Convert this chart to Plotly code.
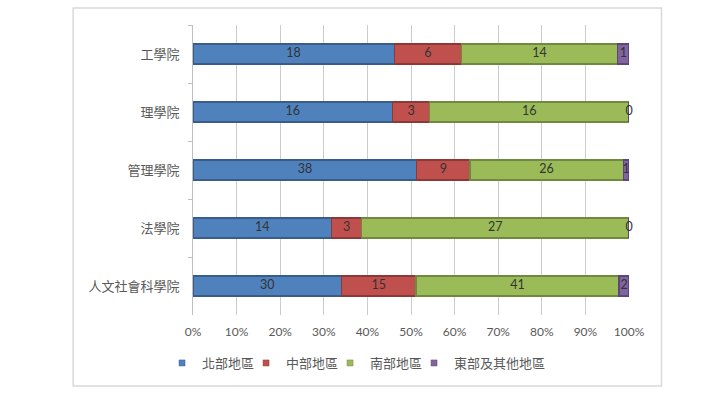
import plotly.graph_objects as go

categories = ["工學院", "理學院", "管理學院", "法學院", "人文社會科學院"]
series_names = ["北部地區", "中部地區", "南部地區", "東部及其他地區"]
north = [18, 16, 38, 14, 30]
central = [6, 3, 9, 3, 15]
south = [14, 16, 26, 27, 41]
east = [1, 0, 1, 0, 2]
x_tick_vals = [i / 10 for i in range(11)]
x_tick_text = [f"{i*10}%" for i in range(11)]

fills = ["#4F81BD", "#C0504D", "#9BBB59", "#8064A2"]
borders = ["#385D8A", "#8C3836", "#71893F", "#5C4776"]

series = [north, central, south, east]
totals = [sum(s[i] for s in series) for i in range(len(categories))]

W, H = 712, 415
L, R, T, B = 193, 629.5, 25, 315

fig = go.Figure()
cum = [0.0] * len(categories)
text_x, text_y, text_s = [], [], []
for name, vals, fc, bc in zip(series_names, series, fills, borders):
    shares = [v / t for v, t in zip(vals, totals)]
    fig.add_trace(go.Bar(
        y=categories, x=shares, orientation="h", name=name,
        marker=dict(color=fc, line=dict(color=bc, width=1.2)),
        showlegend=False, hoverinfo="skip",
    ))
    for i, (v, s) in enumerate(zip(vals, shares)):
        text_x.append(cum[i] + s / 2)
        text_y.append(categories[i])
        text_s.append(str(v))
        cum[i] += s
    # legend proxy
    fig.add_trace(go.Scatter(
        x=[None], y=[None], mode="markers", name=name,
        marker=dict(symbol="square", size=6, color=fc, line=dict(color=bc, width=0.5)),
    ))

# spacer legend entry so the last legend label is not clipped
fig.add_trace(go.Scatter(
    x=[None], y=[None], mode="markers", name=" ",
    marker=dict(symbol="square", size=6, color="rgba(0,0,0,0)"),
))

fig.add_trace(go.Scatter(
    x=text_x, y=text_y, mode="text", text=text_s, showlegend=False,
    textfont=dict(family="Lato, Noto Sans CJK TC", size=12.5, color="#333333"),
    hoverinfo="skip", cliponaxis=False,
))

fig.update_layout(
    width=W, height=H,
    margin=dict(l=L, r=W - R, t=T, b=H - B, pad=0, autoexpand=False),
    paper_bgcolor="white", plot_bgcolor="white",
    barmode="stack", bargap=0.655,
    font=dict(family="Lato, Noto Sans CJK TC", color="#595959"),
    xaxis=dict(range=[0, 1], tickvals=x_tick_vals, ticktext=x_tick_text,
               showgrid=True, gridcolor="#CCCCCC", gridwidth=1,
               zeroline=False, showline=False, ticks="",
               ticklabelstandoff=8,
               tickfont=dict(size=12, color="#595959"), fixedrange=True),
    yaxis=dict(autorange="reversed", showline=True, linecolor="#BFBFBF", linewidth=1,
               ticks="outside", tickson="boundaries", ticklen=4, tickcolor="#BFBFBF",
               showgrid=False, tickfont=dict(family="Noto Sans CJK TC", size=13, color="#595959"),
               ticklabelstandoff=10),
    legend=dict(orientation="h", traceorder="normal",
                x=(162 - L) / (R - L), xanchor="left",
                y=-(363 - B) / (B - T), yanchor="middle",
                font=dict(family="Noto Sans CJK TC", size=13, color="#595959"),
                entrywidth=39, entrywidthmode="pixels", itemwidth=30,
                bgcolor="rgba(0,0,0,0)"),
    shapes=[dict(type="rect", xref="paper", yref="paper",
                 x0=(73 - L) / (R - L), x1=(662 - L) / (R - L),
                 y0=-(386 - B) / (B - T), y1=(B - 8) / (B - T),
                 line=dict(color="#D9D9D9", width=1.5), layer="below")],
)

fig.write_html("out.html", config={"displayModeBar": False},
               post_script="document.body.style.margin='0';")
